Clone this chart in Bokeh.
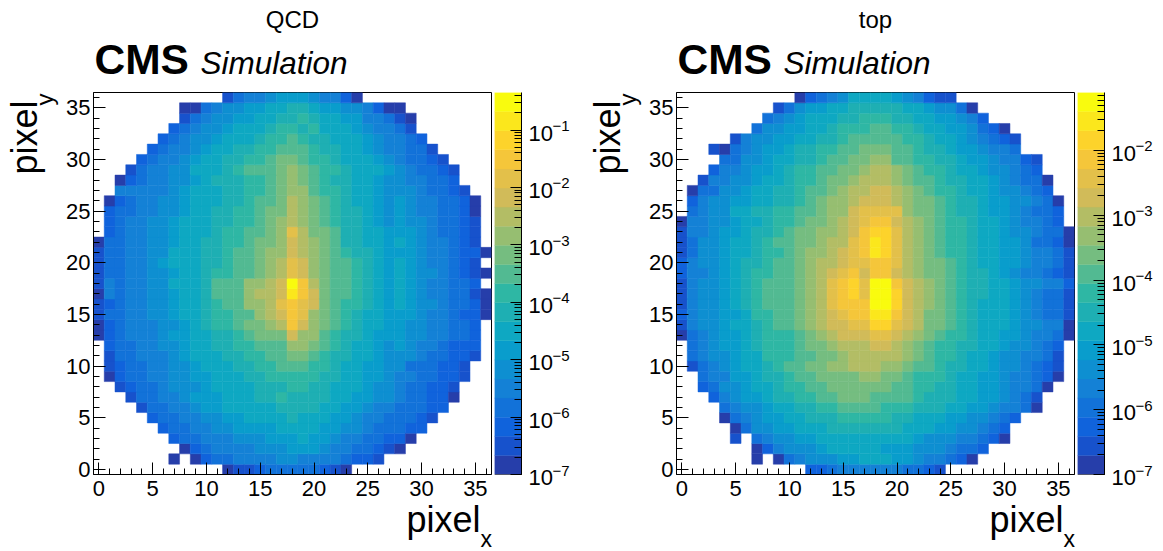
import math
import numpy as np
from bokeh.core.properties import value
from bokeh.embed import file_html
from bokeh.layouts import column, row
from bokeh.models import BasicTickFormatter, ColumnDataSource, LogTicker, Range1d, SingleIntervalTicker, Span
from bokeh.plotting import figure
from bokeh.resources import INLINE
from bokeh.transform import log_cmap

# Colour-band number (0..19) read per cell, listed from pixel_y = 0 upward.
# Each row: first filled pixel_x, then the bands; None is an empty hole.
QCD_ROWS = [
    (12, [0,1,1,2,3,3,3,3,3,2,1,0]),
    (7, [0,None,0,2,3,3,4,4,4,4,5,5,4,4,4,4,3,2,2,1]),
    (8, [0,2,3,4,4,4,4,5,5,5,6,6,6,5,4,4,3,3,2,1,0]),
    (7, [2,3,3,4,4,4,5,5,5,6,6,6,7,6,6,5,4,4,3,3,2,2,0]),
    (6, [2,3,3,4,4,5,5,6,6,6,6,7,7,7,7,6,6,5,5,4,3,3,3,2,2]),
    (5, [2,3,3,4,4,5,5,6,6,7,7,7,7,8,7,7,7,6,6,5,4,4,3,3,3,2,1]),
    (4, [1,3,3,4,4,5,6,6,7,7,7,7,7,8,8,8,8,7,7,6,6,5,4,4,3,3,3,2,2]),
    (3, [1,3,3,4,4,5,6,6,6,7,7,7,8,8,9,8,8,8,8,7,7,6,6,5,5,4,3,3,2,2,0]),
    (2, [1,2,3,3,4,5,5,5,6,7,7,7,7,8,8,8,9,9,8,8,7,7,7,6,5,5,4,3,3,2,2,1]),
    (1, [0,2,3,3,4,4,5,5,6,6,7,7,7,8,8,9,9,9,9,9,8,8,7,7,6,6,5,4,4,3,3,2,2,1]),
    (1, [1,2,3,3,4,4,5,5,6,7,7,7,8,8,9,9,10,10,10,9,9,8,7,7,6,6,5,5,3,3,3,2,2,1]),
    (1, [1,3,3,4,4,4,5,6,7, 7,7,8,8,9,9,10,10,11,11,10,9,8,8,7,7,6,5, 5,5,4,3,3,2,2,1]),
    (1, [2,3,3,4,4,5,5,6,7, 7,8,8,9,9,10,10,10,12,12,11,10,9,8,7,7,6,5, 6,5,4,4,3,2,2,2]),
    (0, [0,2,3,4,4,4,5,6,6,7, 7,8,8,9,10,11,11,11,14,12,12,10,9,8,8,7,6,6, 6,5,5,4,4,3,3,2]),
    (0, [0,2,3,4,4,4,5,5,6,7, 8,9,9,10,11,11,12,13,16,14,12,11,10,9,8,7,7,6, 6,5,5,4,4,3,3,2]),
    (0, [1,3,3,4,4,5,5,6,7,7, 8,9,9,10,10,12,13,14,16,15,12,11,10,9,8,7,7,6, 6,6,5,4,4,3,2,2,0]),
    (0, [1,2,3,4,4,5,5,6,7,7, 8,9,10,10,12,12,13,15,16,15,14,11,10,9,9,8,7,6, 7,6,5,5,4,3,3,2,0]),
    (0, [0,4,3,4,4,5,5,6,7,7, 8,10,10,10,12,13,13,14,18,16,14,11,10,10,9,8,7,6, 7,6,5,4,4,3,3,1,0]),
    (0, [1,4,3,4,4,5,5,7,7,7, 8,10,10,10,12,12,13,14,19,16,13,11,10,10,9,8,7,6, 7,6,5,4,4,3,3,2]),
    (0, [1,3,3,4,4,5,5,6,7,7, 8,9,9,10,10,11,12,13,15,14,12,11,10,10,9,8,7,6, 7,6,5,5,4,3,2,1,0]),
    (0, [1,3,3,4,4,5,6,7,7,7, 8,8,9,10,10,11,12,13,15,14,12,11,10,10,9,8,7,6, 7,6,5,4,4,3,2,1]),
    (0, [1,3,3,4,4,5,5,7,7,7, 8,8,9,10,10,11,12,12,14,13,12,11,10,9,8,8,7,6, 6,6,5,4,4,3,2,2,0]),
    (0, [0,3,3,4,4,5,5,6,7,7, 8,8,9,9,10,11,11,12,14,13,12,11,10,8,8,7,7,6, 7,6,5,4,4,3,2,1]),
    (1, [2,3,4,4,5,5,6,7,7, 7,8,9,9,10,10,11,12,15,13,11,11,10,8,8,7,7,6, 6,6,5,4,3,3,2,1]),
    (1, [2,3,4,4,5,5,6,7,7, 7,8,8,9,9,10,11,12,13,12,11,10,9,8,8,7,6,5, 6,5,5,4,3,3,2,1]),
    (1, [2,3,3,4,4,5,5,6,7, 7,8,8,9,9,10,11,11,13,12,11,10,9,8,8,7,6,5, 6,5,4,4,3,3,2,0]),
    (1, [0,2,3,4,4,5,5,6,7, 7,7,8,8,9,10,10,11,13,12,11,10,9,8,7,7,6,5, 6,5,4,4,3,3,2,0]),
    (2, [4,4,4,4,4,5,6,7, 7,7,8,8,9,9,10,11,12,12,10,9,9,8,7,7,6,5, 5,5,4,3,3,2,1]),
    (2, [0,2,3,4,4,5,5,6, 7,8,8,8,9,9,10,11,12,11,10,9,8,8,7,7,6,5, 5,4,4,3,3,2]),
    (3, [1,3,4,4,5,5,7,7,7,8,9,10,10,10,11,12,11,10,9,9,8,7,7,7,6,5,4,3,3,2,1]),
    (4, [2,3,4,4,5,6,7,7,8,8,9,9,10,11,11,10,9,9,8,7,7,7,6,5,4,3,3,2,1]),
    (5, [2,3,4,4,5,6,7,7,8,8,9,9,10,10,10,9,8,8,7,7,6,5,4,4,3,3,1]),
    (6, [2,3,4,5,5,6,7,7,7,8,9,9,10,9,8,8,7,7,7,6,5,4,4,3,2]),
    (7, [2,3,4,5,5,6,7,7,7,8,9,9,8,9,7,7,7,6,5,4,4,3,1]),
    (8, [1,3,4,5,5,6,6,7,7,8,8,9,8,7,7,6,6,4,4,3,1,0]),
    (8, [0,0,3,4,5,5,6,6,7,7,8,8,7,6,6,5,5,4,2,0,0]),
    (12, [1,3,4,4,5,6,6,6,5,4,4,2,0]),
]

TOP_ROWS = [
    (12, [2,2,3,4,4,4,4,4,4,3,3,2,1]),
    (7, [0,None,0,3,4,5,5,5,6,6,7,7,7,6,6,5,4,4,3,2,0]),
    (7, [0,2,4,5,5,5,6,7,7,7,7,7,6,6,6,5,5,5,4,3,3,2]),
    (5, [1,None,3,4,5,5,6,6,7,7,7,7,7,7,7,7,7,6,5,5,5,4,4,3,2,0]),
    (5, [0,3,5,5,6,6,7,7,7,8,8,8,8,8,8,8,7,7,7,6,6,5,5,4,3,2]),
    (4, [0,3,4,5,6,6,7,7,8,8,8,9,9,9,9,9,8,8,7,7,7,6,6,5,5,4,3,2]),
    (4, [3,4,5,5,6,7,7,8,8,9,9,10,10,10,10,9,9,9,8,8,8,7,7,6,6,5,4,4,3,0]),
    (3, [2,4,5,6,6,7,8,8,9,9,10,10,11,11,11,10,10,10,10,9,8,8,8,7,7,6,6,5,4,3,1]),
    (2, [2,3,5,5,6,7,7,8,9,9,10,10,11,11,11,11,11,11,10,10,9,9,8,8,7,7,6,6,5,4,4,3,0]),
    (2, [3,4,4,6,6,7,8,8,9,10,10,11,11,11,11,12,12,11,11,10,9,9,9,8,7,7,6,6,5,4,4,3,2,0]),
    (1, [1,3,4,5,6,7,7,8,9,10,10,11,11,12,12,13,13,13,12,12,11,10,10,9,8,8,7,7,6,5,5,4,3,2,1]),
    (1, [3,4,5,5,6,7,7,9,9, 9,10,10,11,11,12,13,13,13,13,13,12,11,10,9,9,8,7, 7,6,5,5,4,4,3,1]),
    (1, [3,4,5,6,6,7,8,9,9, 9,10,11,11,12,13,13,13,14,14,13,12,11,10,9,9,8,8, 7,7,6,5,5,4,3,2]),
    (0, [0,3,4,5,6,6,7,8,9,9, 9,10,11,12,13,14,14,14,15,15,14,13,12,11,10,9,9,8, 7,7,6,6,5,4,4,3,0]),
    (0, [1,4,5,5,6,7,7,8,9,10, 10,11,12,13,14,14,15,15,17,17,15,14,13,11,11,10,9,8, 7,7,7,6,5,5,4,4,0]),
    (0, [2,4,5,5,6,6,7,9,9,10, 10,11,12,13,14,15,16,16,18,18,16,14,13,11,11,10,9,8, 7,7,7,6,5,4,3,3,1]),
    (0, [1,4,5,5,6,7,8,9,10,10, 10,11,12,13,15,16,16,16,19,19,17,14,13,12,11,10,9,8, 7,7,7,6,5,4,3,3,1]),
    (0, [1,4,5,5,6,7,8,9,10,10, 10,11,12,13,15,16,17,15,19,19,17,14,13,12,11,10,9,8, 8,7,7,6,5,4,3,3,1]),
    (0, [1,4,5,5,6,7,8,9,10,10, 10,11,12,13,15,16,17,15,19,19,16,14,13,12,11,10,9,8, 8,7,7,6,5,5,4,4,2]),
    (0, [2,4,4,5,6,7,8,9,9,10, 10,11,12,13,14,15,16,14,16,16,14,13,12,11,11,10,9,8, 8,7,6,5,4,4,3,2,1]),
    (0, [2,4,5,5,6,7,8,8,9,10, 10,11,12,13,13,14,15,15,16,16,15,13,12,11,11,10,9,8, 7,7,6,6,5,4,4,3,1]),
    (0, [1,3,5,5,6,7,7,8,9,9, 10,11,12,12,13,14,15,16,18,17,15,13,12,11,10,9,9,8, 7,7,6,6,5,4,4,3,1]),
    (0, [1,3,5,5,6,7,7,8,9,10, 10,11,11,12,13,13,15,16,18,17,15,13,12,11,10,9,9,8, 7,7,6,6,5,3,3,2,0]),
    (0, [1,4,4,5,6,6,7,8,8,9, 10,11,11,12,12,13,14,16,17,17,15,13,12,11,10,9,9,8, 7,7,6,5,5,4,3,3,0]),
    (0, [0,4,4,5,5,6,7,7,8,9, 9,10,11,11,12,13,14,15,16,16,14,13,12,11,10,9,9,8, 7,7,6,5,4,4,3,2]),
    (1, [3,4,5,5,7,7,8,8,9, 9,10,10,11,12,12,14,15,15,15,15,12,11,11,10,9,8,8, 7,6,6,5,4,3,3,2]),
    (1, [2,4,5,5,6,6,7,7,8, 8,9,10,11,12,12,13,14,14,14,13,12,11,11,10,9,8,8, 7,6,6,5,5,4,3,0]),
    (1, [0,3,3,5,5,6,7,7,8, 8,9,10,10,11,12,13,13,14,14,13,12,11,10,9,9,8,7, 7,6,5,5,4,3,2]),
    (2, [1,4,4,5,5,6,7,7, 8,9,9,10,11,11,12,13,13,13,12,11,10,10,9,8,8,7, 7,6,5,4,3,3,0]),
    (3, [2,4,4,5,6,6,7,8,9,9,10,10,11,11,12,13,13,12,11,10,9,9,8,7,7,6,5,5,4,3,2]),
    (4, [3,3,5,5,6,7,7,8,8,9,10,10,11,11,12,12,10,10,9,9,8,8,7,6,6,5,4,4,2,1]),
    (3, [1,0,3,4,5,6,6,7,8,8,9,9,10,10,11,11,11,10,10,9,8,8,7,6,6,5,4,4,3]),
    (5, [1,4,5,5,6,6,7,7,8,8,9,10,10,10,10,10,9,9,8,7,7,6,5,4,3,2,1]),
    (7, [3,5,5,6,6,7,7,8,9,9,9,10,10,9,9,8,7,7,6,6,5,3,2,0]),
    (8, [3,4,5,6,7,7,7,8,8,9,9,9,8,8,7,7,6,6,5,4,2]),
    (9, [1,3,5,6,6,7,7,8,8,8,8,8,7,7,6,5,5,3,0]),
    (11, [0,2,3,4,5,7,7,7,7,6,5,4,2,1,1]),
]

QCD_Z_MAX = 0.45
TOP_Z_MAX = 0.0785
Z_MIN = 1e-7
QCD_DECADES = [-7, -6, -5, -4, -3, -2, -1]
TOP_DECADES = [-7, -6, -5, -4, -3, -2]
AXIS_TICKS = 5
BANDS = 20
FONT = "Liberation Sans"

# ROOT kBird colour stops
_st = [0, .125, .25, .375, .5, .625, .75, .875, 1]
_r = [.2082, .0592, .0780, .0232, .1802, .5301, .8186, .9956, .9764]
_g = [.1664, .3599, .5041, .6419, .7178, .7492, .7328, .7862, .9832]
_b = [.5293, .8684, .8385, .7914, .6425, .4662, .3499, .1968, .0539]
PALETTE = []
for i in range(BANDS):
    t = (i + 1) / BANDS
    PALETTE.append("#%02x%02x%02x" % tuple(int(round(255 * np.interp(t, _st, c))) for c in (_r, _g, _b)))

FRAME_W, FRAME_H = 398, 382
TOP_H, BOT_H = 90, 52        # text strips above and below
HEAT_TOP, HEAT_BOT, HEAT_LEFT = 2, 25, 32
MID_H = HEAT_TOP + FRAME_H + HEAT_BOT
NO_BORDER = dict(min_border=0, min_border_left=0, min_border_right=0, min_border_top=0, min_border_bottom=0)


def band_value(band, zmax):
    return Z_MIN * (zmax / Z_MIN) ** ((band + 0.5) / BANDS)


def strip(width, height, x0, x1, y_top, y_bot):
    """Blank panel whose coordinates are page pixels, so its texts are not clipped by a neighbour's frame."""
    p = figure(frame_width=width, frame_height=height, output_backend="svg", toolbar_location=None,
               x_range=Range1d(x0, x1), y_range=Range1d(y_bot, y_top),
               x_axis_location=None, y_axis_location=None, **NO_BORDER)
    p.outline_line_color = None
    p.grid.visible = False
    return p


def put(p, s, x, y, size, style="normal", align="left", angle=0.0):
    p.text(x=[x], y=[y], text=[s], text_font=value(FONT), text_font_size=value(f"{size}px"),
           text_font_style=style, text_align=align, text_baseline="middle",
           text_color="black", angle=angle)


def heat(rows, zmax):
    xs, ys, vs = [], [], []
    for y, (start, bands) in enumerate(rows):
        for k, b in enumerate(bands):
            if b is not None:
                xs.append(start + k); ys.append(y); vs.append(band_value(b, zmax))
    src = ColumnDataSource(dict(x=xs, y=ys, v=vs))
    p = figure(width=HEAT_LEFT + FRAME_W + 2, height=MID_H, output_backend="svg", toolbar_location=None,
               x_range=Range1d(-0.5, 36.5), y_range=Range1d(-0.5, 36.5),
               min_border_left=HEAT_LEFT, min_border_right=2, min_border_top=HEAT_TOP, min_border_bottom=HEAT_BOT)
    cm = log_cmap("v", PALETTE, Z_MIN, zmax)
    p.rect("x", "y", 1, 1, source=src, fill_color=cm, line_color=cm, line_width=0.5)
    p.grid.visible = False
    p.outline_line_color = "black"
    p.outline_line_width = 1
    for ax in (p.xaxis[0], p.yaxis[0]):
        ax.ticker = SingleIntervalTicker(interval=AXIS_TICKS, num_minor_ticks=AXIS_TICKS)
        ax.major_tick_in, ax.major_tick_out = 12, 0
        ax.minor_tick_in, ax.minor_tick_out = 6, 0
        ax.axis_line_color = ax.major_tick_line_color = ax.minor_tick_line_color = "black"
        ax.major_label_text_font = FONT
        ax.major_label_text_font_size = "22px"
        ax.major_label_text_color = "black"
    p.xaxis[0].major_label_standoff = 6
    p.yaxis[0].major_label_standoff = 3
    return p


def colorbar(zmax):
    p = figure(width=32, height=MID_H, output_backend="svg", toolbar_location=None,
               x_range=Range1d(0, 1), y_range=Range1d(Z_MIN, zmax), y_axis_type="log",
               y_axis_location="right", x_axis_location=None,
               min_border_left=1, min_border_right=4, min_border_top=HEAT_TOP, min_border_bottom=HEAT_BOT)
    edges = [Z_MIN * (zmax / Z_MIN) ** (i / BANDS) for i in range(BANDS + 1)]
    p.quad(left=0, right=1, bottom=edges[:-1], top=edges[1:], fill_color=PALETTE, line_color=PALETTE, line_width=0.4)
    p.grid.visible = False
    p.outline_line_color = None
    ax = p.yaxis[0]
    ax.ticker = LogTicker(num_minor_ticks=10, desired_num_ticks=8)
    ax.formatter = BasicTickFormatter()
    ax.major_tick_in, ax.major_tick_out = 11, 0
    ax.minor_tick_in, ax.minor_tick_out = 7, 0
    ax.axis_line_color = ax.major_tick_line_color = ax.minor_tick_line_color = "black"
    ax.major_label_text_font_size = "1px"
    ax.major_label_text_color = None
    ax.major_label_standoff = 0
    p.add_layout(Span(location=Z_MIN, dimension="width", line_color="black", line_width=1))
    return p


def bar_labels(zmax, decades, width):
    # Same log scale as the bar, extended to the whole strip height.
    r = zmax / Z_MIN
    lo = Z_MIN * r ** (-HEAT_BOT / FRAME_H)
    hi = zmax * r ** (HEAT_TOP / FRAME_H)
    p = figure(frame_width=width, frame_height=MID_H, output_backend="svg", toolbar_location=None,
               x_range=Range1d(0, width), y_range=Range1d(lo, hi), y_axis_type="log",
               x_axis_location=None, y_axis_location=None, **NO_BORDER)
    p.outline_line_color = None
    p.grid.visible = False
    vals = [10.0 ** d for d in decades]
    p.text(x=[3] * len(vals), y=vals, text=["10"] * len(vals), y_offset=1, text_font=value(FONT),
           text_font_size=value("22px"), text_baseline="middle", text_color="black")
    p.text(x=[27] * len(vals), y=vals, text=["\u2212%d" % abs(d) for d in decades], y_offset=-6, text_font=value(FONT),
           text_font_size=value("15px"), text_baseline="middle", text_color="black")
    return p


def panel(rows, zmax, decades, title, title_x, x0, x1, ox, left_w, label_w):
    frame_left = x0 + left_w + HEAT_LEFT
    top = strip(x1 - x0, TOP_H, x0, x1, 0, TOP_H)
    put(top, title, title_x, 19, 24, align="center")
    put(top, "CMS", frame_left + 1, 59, 42.5, style="bold")
    put(top, "Simulation", frame_left + 107, 62, 31.5, style="italic")
    left = strip(left_w, MID_H, x0, x0 + left_w, TOP_H, TOP_H + MID_H)
    put(left, "pixel", ox + 24, 172, 36, angle=math.pi / 2)
    put(left, "y", ox + 44, 103, 24, angle=math.pi / 2)
    bot = strip(x1 - x0, BOT_H, x0, x1, TOP_H + MID_H, TOP_H + MID_H + BOT_H)
    put(bot, "pixel", frame_left + 313, 519, 36)
    put(bot, "x", frame_left + 387, 538, 23)
    mid = row(left, heat(rows, zmax), colorbar(zmax), bar_labels(zmax, decades, label_w))
    return column(top, mid, bot)


page = row(
    panel(QCD_ROWS, QCD_Z_MAX, QCD_DECADES, "QCD", 292, 0, 591, 0, 61, 66),
    panel(TOP_ROWS, TOP_Z_MAX, TOP_DECADES, "top", 875, 591, 1160, 583, 53, 52),
)
open("out.html", "w").write(file_html(page, INLINE))
